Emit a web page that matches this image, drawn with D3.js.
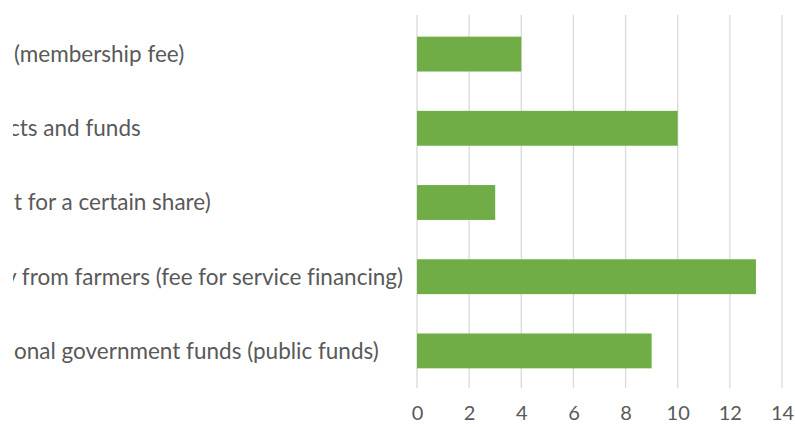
<!DOCTYPE html>
<html>
<head>
<meta charset="utf-8">
<script src="https://cdn.jsdelivr.net/npm/d3@7"></script>
<style>
  html, body { margin: 0; padding: 0; background: #fff; }
  svg { display: block; }
  text { font-family: Lato, "Open Sans", sans-serif; fill: #595959; font-variant-ligatures: none; }
</style>
</head>
<body>
<svg id="chart" width="795" height="427"></svg>
<script>
// Funding sources (category names as they appear on the axis) and counts
const categories = [
  "(membership fee)",
  "cts and funds",
  "t for a certain share)",
  "y from farmers (fee for service financing)",
  "onal government funds (public funds)"
];
const counts = [4, 10, 3, 13, 9];
const xTicks = [0, 2, 4, 6, 8, 10, 12, 14];

const W = 795, H = 427;
const plot = { left: 417, right: 782, top: 17, bottom: 388 };

const svg = d3.select("#chart");

const x = d3.scaleLinear().domain([0, 14]).range([plot.left, plot.right]);
const y = d3.scaleBand().domain(categories).range([plot.top, plot.bottom])
  .paddingInner(0.53).paddingOuter(0.265);

// vertical gridlines
svg.append("g")
  .selectAll("line")
  .data(xTicks)
  .join("line")
  .attr("x1", d => x(d)).attr("x2", d => x(d))
  .attr("y1", 15).attr("y2", plot.bottom)
  .attr("stroke", "#d9d9d9").attr("stroke-width", 1.3);

// bars
svg.append("g")
  .selectAll("rect")
  .data(categories)
  .join("rect")
  .attr("x", x(0))
  .attr("y", d => y(d))
  .attr("width", (d, i) => x(counts[i]) - x(0))
  .attr("height", y.bandwidth())
  .attr("fill", "#70ad47");

// x-axis tick labels
const xAxis = d3.axisBottom(x).tickValues(xTicks).tickSize(0).tickPadding(0);
const gx = svg.append("g").attr("transform", `translate(0,${plot.bottom + 25})`).call(xAxis);
gx.select(".domain").remove();
gx.selectAll("text")
  .attr("font-size", 20).attr("dy", "0.35em")
  .style("font-family", "Lato, 'Open Sans', sans-serif").attr("fill", "#595959");

// category labels, clipped at the left edge; the first glyph of some
// labels sits partly behind the clip edge
const leadCut = [0, 5, 0, 9, 0];
svg.append("clipPath").attr("id", "lbl-clip")
  .append("rect").attr("x", 13).attr("y", 0).attr("width", 400).attr("height", H);
svg.append("g").attr("clip-path", "url(#lbl-clip)")
  .selectAll("text")
  .data(categories)
  .join("text")
  .attr("x", (d, i) => 14 - leadCut[i])
  .attr("y", d => y(d) + y.bandwidth() / 2)
  .attr("dy", "0.35em")
  .attr("font-size", 22.5)
  .text(d => d);
</script>
</body>
</html>
